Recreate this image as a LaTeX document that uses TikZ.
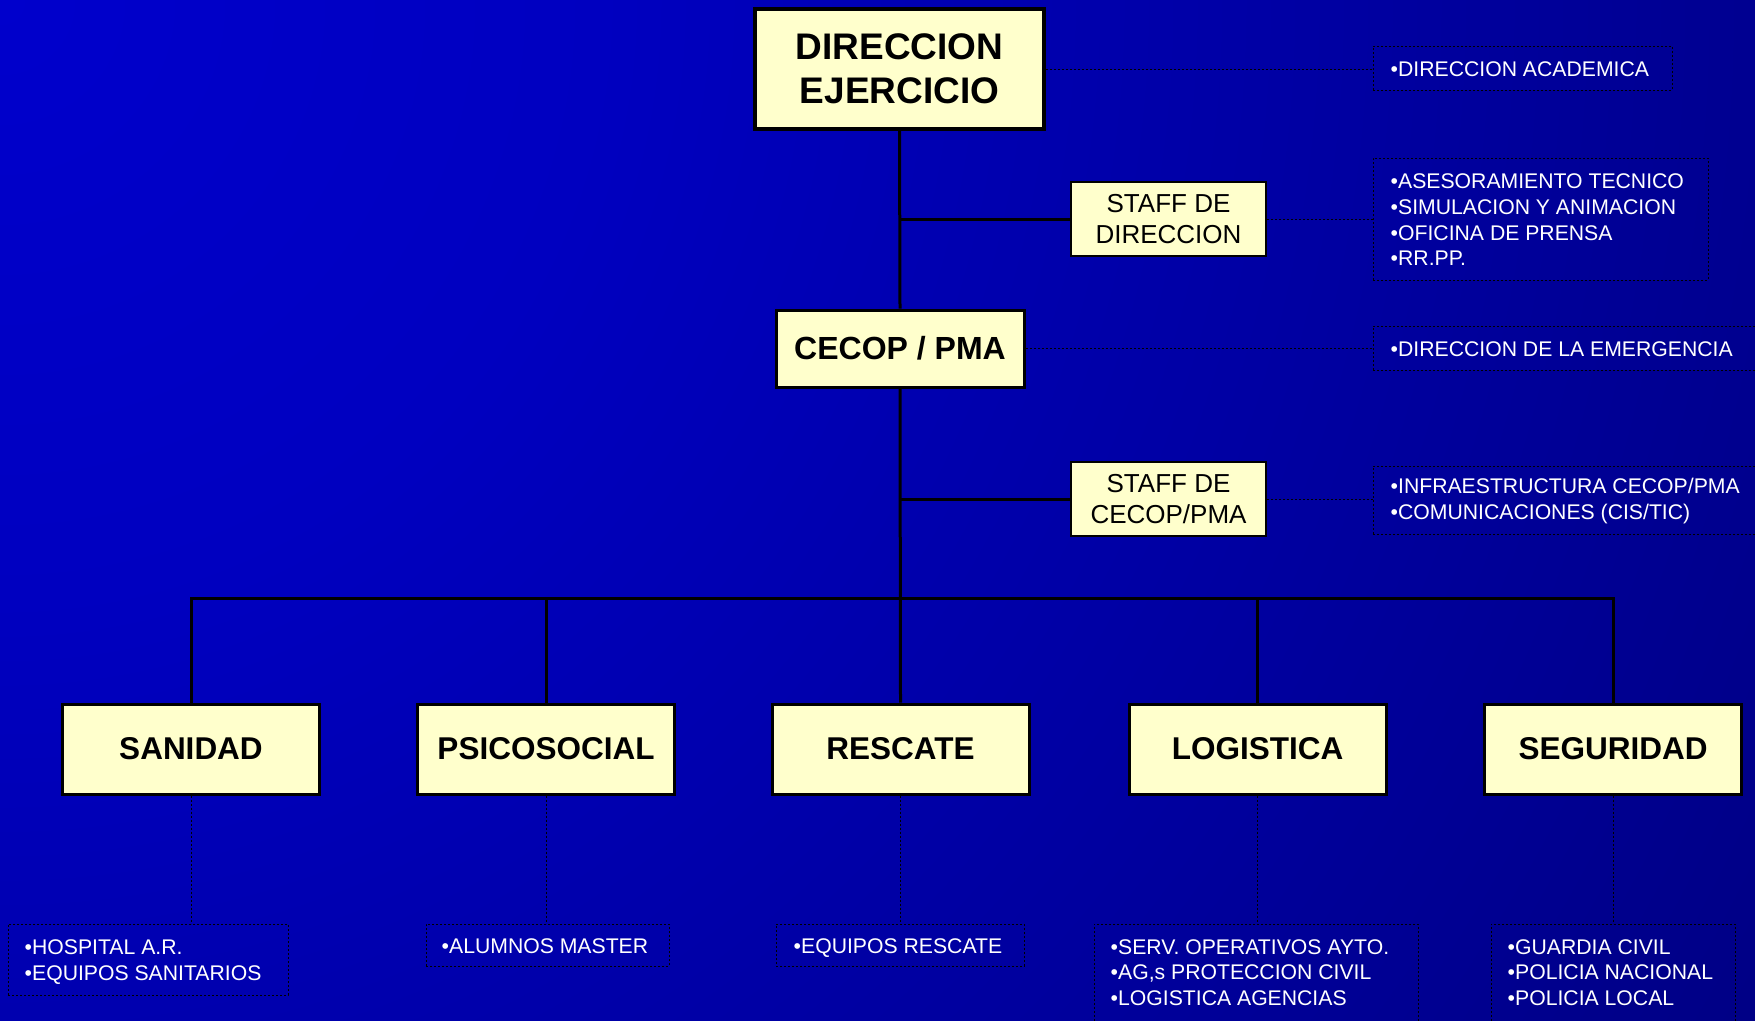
\documentclass[tikz,border=0pt]{standalone}
\usepackage{fontspec}
\setmainfont{Liberation Sans}
\definecolor{bgA}{RGB}{0,0,204}
\definecolor{bgM}{RGB}{0,0,192}
\definecolor{bgB}{RGB}{0,0,128}
\definecolor{boxfill}{RGB}{255,255,204}
\pgfdeclareradialshading{bgshade}{\pgfpoint{0bp}{0bp}}{color(0bp)=(bgA); color(5bp)=(bgM); color(18bp)=(bgB); color(50bp)=(bgB)}
\tikzset{
  orgbox/.style={draw=black, fill=boxfill, line width=3pt, inner sep=0pt, align=center},
  titlebox/.style={orgbox, line width=3.5pt, font=\bfseries\fontsize{37}{44.5}\selectfont},
  midbox/.style={orgbox, font=\bfseries\fontsize{32}{38}\selectfont},
  unitbox/.style={orgbox, minimum width=257, minimum height=90, font=\bfseries\fontsize{31.5}{38}\selectfont},
  staffbox/.style={orgbox, line width=2.5pt, minimum width=195, minimum height=74, font=\fontsize{26}{31}\selectfont},
  listbox/.style={draw=black, line width=1pt, dash pattern=on 2pt off 2pt, inner sep=0pt},
  listtext/.style={text=white, inner sep=0pt, align=left, anchor=west, font=\fontsize{21.2}{25.7}\selectfont},
  trunk/.style={draw=black, line width=3pt},
  dotline/.style={draw=black, line width=1pt, dash pattern=on 2pt off 2pt},
}
\begin{document}
\begin{tikzpicture}[x=1pt,y=-1pt]
\clip (0,0) rectangle (1755,1020);
\shade[shading=bgshade] (0,0) circle (3000);

% main boxes
\node[titlebox, minimum width=289, minimum height=120] (dir) at (899.5,69) {DIRECCION\\EJERCICIO};
\node[midbox, minimum width=248, minimum height=77] (cecop) at (900,348.5) {CECOP / PMA};
\node[staffbox] (sd) at (1168.5,219) {STAFF DE\\DIRECCION};
\node[staffbox] (sc) at (1168.5,499) {STAFF DE\\CECOP/PMA};

\node[unitbox] (san) at (191,749) {SANIDAD};
\node[unitbox] (psi) at (546,749) {PSICOSOCIAL};
\node[unitbox] (res) at (900.5,749) {RESCATE};
\node[unitbox] (log) at (1257.5,749) {LOGISTICA};
\node[unitbox] (seg) at (1613,749) {SEGURIDAD};

% solid connectors
\coordinate (bus) at (900,598);
\draw[trunk] (dir.south) -- (cecop.north);
\draw[trunk] (cecop.south) -- (res.north);
\draw[trunk] (sd.west) -- (sd.west -| dir.south);
\draw[trunk] (sc.west) -- (sc.west -| dir.south);
\draw[trunk] (san.north) |- (bus) -| (seg.north);
\draw[trunk] (psi.north) -- (psi.north |- bus);
\draw[trunk] (log.north) -- (log.north |- bus);

% dotted list boxes
\node[listbox, minimum width=299, minimum height=44] (acad) at (1522.5,68) {};
\node[listbox, minimum width=335, minimum height=122] (sdl) at (1540.5,219) {};
\node[listbox, minimum width=407, minimum height=44] (emer) at (1576.5,348) {};
\node[listbox, minimum width=407, minimum height=68] (infra) at (1576.5,500) {};
\node[listbox, minimum width=280, minimum height=71] (sanl) at (148,959.5) {};
\node[listbox, minimum width=243, minimum height=42] (psil) at (547.5,945) {};
\node[listbox, minimum width=248, minimum height=42] (resl) at (900,945) {};
\node[listbox, minimum width=324, minimum height=97] (logl) at (1256,972.5) {};
\node[listbox, minimum width=244, minimum height=97] (segl) at (1613,972.5) {};

\node[listtext] at ([xshift=18,yshift=-1]acad.west) {•DIRECCION ACADEMICA};
\node[listtext] at ([xshift=18,yshift=-1]sdl.west) {•ASESORAMIENTO TECNICO\\•SIMULACION Y ANIMACION\\•OFICINA DE PRENSA\\•RR.PP.};
\node[listtext] at ([xshift=18,yshift=-1]emer.west) {•DIRECCION DE LA EMERGENCIA};
\node[listtext] at ([xshift=18,yshift=-1]infra.west) {•INFRAESTRUCTURA CECOP/PMA\\•COMUNICACIONES (CIS/TIC)};
\node[listtext] at ([xshift=17,yshift=-2.5]sanl.west) {•HOSPITAL A.R.\\•EQUIPOS SANITARIOS};
\node[listtext] at ([xshift=16,yshift=-1.5]psil.west) {•ALUMNOS MASTER};
\node[listtext] at ([xshift=18,yshift=-3]resl.west) {•EQUIPOS RESCATE};
\node[listtext] at ([xshift=17]logl.west) {•SERV. OPERATIVOS AYTO.\\•AG,s PROTECCION CIVIL\\•LOGISTICA AGENCIAS};
\node[listtext] at ([xshift=17]segl.west) {•GUARDIA CIVIL\\•POLICIA NACIONAL\\•POLICIA LOCAL};

% dotted connectors
\draw[dotline] (dir.east) -- (dir.east -| acad.west);
\draw[dotline] (sd.east) -- (sd.east -| sdl.west);
\draw[dotline] (cecop.east) -- (cecop.east -| emer.west);
\draw[dotline] (sc.east) -- (sc.east -| infra.west);
\draw[dotline] (san.south) -- (san.south |- sanl.north);
\draw[dotline] (psi.south) -- (psi.south |- psil.north);
\draw[dotline] (res.south) -- (res.south |- resl.north);
\draw[dotline] (log.south) -- (log.south |- logl.north);
\draw[dotline] (seg.south) -- (seg.south |- segl.north);
\end{tikzpicture}
\end{document}
